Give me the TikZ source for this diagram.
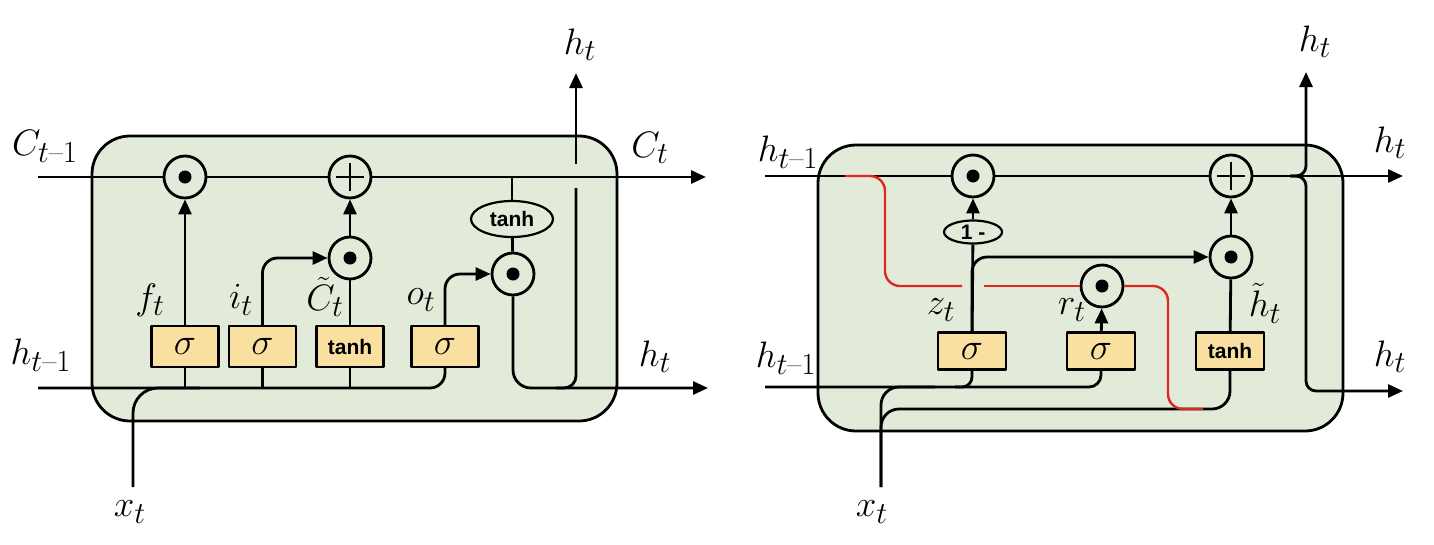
\RequirePackage{fix-cm}
\documentclass[tikz,border=0pt]{standalone}
\usepackage{graphicx}
\usepackage{amsmath}
\usepackage{fontspec}
\newfontfamily\gsans{Liberation Sans}
\usetikzlibrary{arrows.meta,shapes.geometric}
\definecolor{cellgreen}{RGB}{226,235,217}
\definecolor{gateyellow}{RGB}{250,224,160}
\definecolor{resetred}{RGB}{222,40,30}
\newcommand{\mylbl}[1]{\scalebox{1.48}{$#1$}}
\newcommand{\mysig}{\scalebox{1.5}{$\sigma$}}
\newcommand{\tmo}{t\text{--}1}
\begin{document}
\begin{tikzpicture}[x=1pt,y=-1pt, line width=2.8pt, line join=round,
 arr/.style={-{Triangle[length=15pt,width=13pt]}},
 cell/.style={draw, fill=cellgreen, line width=2.8pt, rounded corners=38pt},
 gate/.style={draw, fill=gateyellow, line width=2.2pt, minimum width=67pt, minimum height=41pt, inner sep=0pt},
 rgate/.style={gate, minimum width=68pt, minimum height=37pt},
 op/.style={circle, draw, fill=cellgreen, line width=2.8pt, minimum size=42pt, inner sep=0pt},
 mult/.style={op, path picture={\fill[black] (path picture bounding box.center) circle[radius=6.5pt];}},
 plus/.style={op, path picture={\draw[black, line width=2.8pt] ([xshift=-14pt]path picture bounding box.center) -- ([xshift=14pt]path picture bounding box.center); \draw[black, line width=2.8pt] ([yshift=-14pt]path picture bounding box.center) -- ([yshift=14pt]path picture bounding box.center);}},
 oval/.style={ellipse, draw, fill=cellgreen, line width=2.2pt, inner sep=0pt},
 lab/.style={inner sep=0pt, font=\fontsize{24.88}{30}\selectfont},
 sig/.style={font=\fontsize{24.88}{30}\selectfont},
 tanhf/.style={font=\gsans\bfseries\fontsize{21}{25}\selectfont},
 redwire/.style={draw=resetred, line width=2.4pt}
]
\useasboundingbox (0,0) rectangle (1434,544);

% ================= LSTM =================
\draw[cell] (92,136) rectangle (617,421);
\coordinate (LCin) at (38,177);
\coordinate (LCout) at (706,177);
\coordinate (Lhin) at (38,388);
\coordinate (Lhout) at (708,388);
\coordinate (Lx) at (133,487);
\coordinate (Lxj) at (200,388);
\coordinate (LCtap) at (512,177);
\coordinate (Lhj) at (556,388);
\coordinate (Lg1) at (576,188);
\coordinate (Lg2) at (576,164);
\coordinate (Lup) at (576,73);

\node[mult] (Lmf) at (185,177) {};
\node[plus] (Lap) at (350,177) {};
\node[mult] (Lmi) at (350,258) {};
\node[mult] (Lmo) at (513,274) {};
\node[oval, tanhf, minimum width=82pt, minimum height=36pt] (Lth) at (512,219) {tanh};

\node[gate,sig] (Lbf) at (185,346.5) {\mysig};
\node[gate,sig] (Lbi) at (262.5,346.5) {\mysig};
\node[gate,tanhf] (Lbt) at (350,346.5) {tanh};
\node[gate,sig] (Lbo) at (445,346.5) {\mysig};

\draw (LCin) -- (Lmf);
\draw (Lmf) -- (Lap);
\draw[arr] (Lap) -- (LCout);
\draw (LCtap) -- (Lth.north);
\draw (Lth) -- (Lmo);
\draw[arr] (Lbf) -- (Lmf);
\draw[arr, rounded corners=15pt] (Lbi.north) |- (Lmi.west);
\draw (Lbt) -- (Lmi);
\draw[arr] (Lmi) -- (Lap);
\draw[arr, rounded corners=15pt] (Lbo.north) |- (Lmo.west);
\draw[rounded corners=15pt] (Lhin) -| (Lbo.south);
\draw (Lbf.south) -- (Lbf.south |- Lhin);
\draw (Lbi.south) -- (Lbi.south |- Lhin);
\draw (Lbt.south) -- (Lbt.south |- Lhin);
\draw[rounded corners=25pt] (Lx) |- (Lxj);
\draw[arr, rounded corners=18pt] (Lmo.south) |- (Lhout);
\draw[rounded corners=12pt] (Lhj) -| (Lg1);
\draw[arr] (Lg2) -- (Lup);

\node[lab] (lCt1) at (45,146) {\mylbl{C_{\tmo}}};
\node[lab] (lht1) at (41,355) {\mylbl{h_{\tmo}}};
\node[lab] (lCt) at (650,148) {\mylbl{C_t}};
\node[lab] (lhtr) at (655,357) {\mylbl{h_t}};
\node[lab] (lhtu) at (580,45) {\mylbl{h_t}};
\node[lab] (lft) at (150,300) {\mylbl{f_t}};
\node[lab] (lit) at (241,300) {\mylbl{i_t}};
\node[lab] (lCtt) at (325,297) {\mylbl{\tilde{C}_t}};
\node[lab] (lot) at (421,300) {\mylbl{o_t}};
\node[lab] (lxt) at (130,512) {\mylbl{x_t}};

% ================= GRU =================
\draw[cell] (818,145) rectangle (1343,431);
\coordinate (Rtin) at (765,176);
\coordinate (Rtout) at (1403,176);
\coordinate (Rj) at (1290,176);
\coordinate (Rup) at (1306,72);
\coordinate (Rdown) at (1306,391);
\coordinate (Rbout) at (1403,391);
\coordinate (Rbin) at (765,387);
\coordinate (Rzj) at (955,387);
\coordinate (Rx) at (881,487);
\coordinate (Rxj) at (935,387);
\coordinate (RB) at (1230,409);
\coordinate (Rr1) at (845,176);
\coordinate (Rr2) at (885,286);
\coordinate (Rr3) at (962,286);
\coordinate (Rr4) at (984,286);
\coordinate (Rr5) at (1168,409);
\coordinate (Rr6) at (1203,409);

\node[mult] (Rm1) at (973,176) {};
\node[plus] (Rpl) at (1231,176) {};
\node[mult] (Rm2) at (1231,257) {};
\node[mult] (Rmr) at (1102,286) {};
\node[oval, tanhf, minimum width=58pt, minimum height=23pt] (Rom) at (973,232) {1 -};

\node[rgate,sig] (Rbz) at (972,351) {\mysig};
\node[rgate,sig] (Rbr) at (1101,351) {\mysig};
\node[rgate,tanhf] (Rbt) at (1230,351) {tanh};

\draw (Rtin) -- (Rm1);
\draw (Rm1) -- (Rpl);
\draw (Rpl) -- (Rj);
\draw[arr] (Rj) -- (Rtout);
\draw[arr, rounded corners=10pt] (Rj) -| (Rup);
\draw[arr, rounded corners=10pt] (Rj) -| (Rdown) -- (Rbout);
\draw (Rbz) -- (Rom);
\draw[arr] (Rom) -- (Rm1);
\draw[arr, rounded corners=15pt] (Rbz.north) |- (Rm2.west);
\draw (Rbt) -- (Rm2);
\draw[arr] (Rm2) -- (Rpl);
\draw[arr] (Rbr) -- (Rmr);
\draw[rounded corners=12pt] (Rbin) -| (Rbr.south);
\draw[rounded corners=10pt] (Rbz.south) |- (Rzj);
\draw[rounded corners=18pt] (Rx) |- (Rxj);
\draw[rounded corners=18pt] (Rx) |- (RB) -- (Rbt.south);

\draw[redwire, rounded corners=15pt] (Rr1) -| (Rr2) -- (Rr3);
\draw[redwire] (Rr4) -- (Rmr);
\draw[redwire, rounded corners=15pt] (Rmr.east) -| (Rr5) -- (Rr6);

\node[lab] (rht1a) at (788,152) {\mylbl{h_{\tmo}}};
\node[lab] (rht1b) at (786,358) {\mylbl{h_{\tmo}}};
\node[lab] (rzt) at (941,310) {\mylbl{z_t}};
\node[lab] (rrt) at (1072,310) {\mylbl{r_t}};
\node[lab] (rhtt) at (1265,303) {\mylbl{\tilde{h}_t}};
\node[lab] (rhtu) at (1315,42) {\mylbl{h_t}};
\node[lab] (rhtr) at (1390,143) {\mylbl{h_t}};
\node[lab] (rhtb) at (1390,357) {\mylbl{h_t}};
\node[lab] (rxt) at (872,512) {\mylbl{x_t}};
\end{tikzpicture}
\end{document}
